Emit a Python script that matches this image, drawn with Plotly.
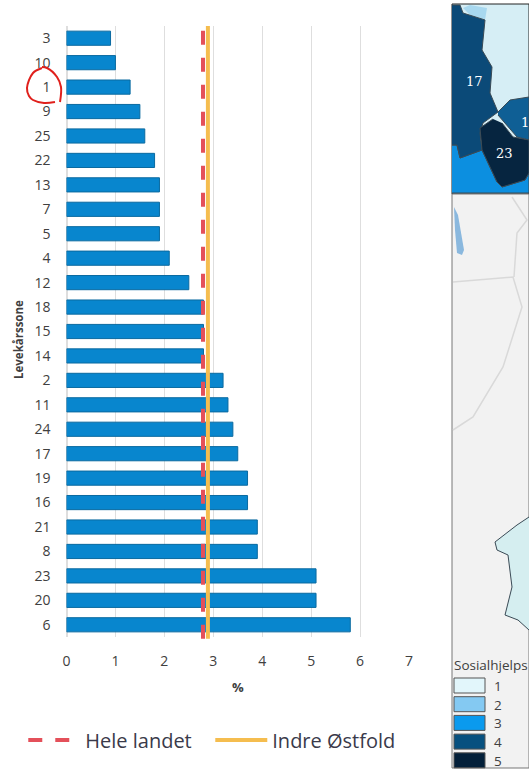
import plotly.graph_objects as go

zones = ["3", "10", "1", "9", "25", "22", "13", "7", "5", "4", "12", "18", "15",
         "14", "2", "11", "24", "17", "19", "16", "21", "8", "23", "20", "6"]
share = [0.9, 1.0, 1.3, 1.5, 1.6, 1.8, 1.9, 1.9, 1.9, 2.1, 2.5, 2.8, 2.8,
         2.8, 3.2, 3.3, 3.4, 3.5, 3.7, 3.7, 3.9, 3.9, 5.1, 5.1, 5.8]
hele_landet = 2.79
indre_ostfold = 2.89
TEXT = "#404040"
FONT = "Open Sans"

# map pieces in page pixels
region_17_x = [452, 460, 463, 485, 482, 492, 490, 498, 483, 480, 482, 460, 457, 452]
region_17_y = [5, 5, 13, 20, 50, 67, 93, 112, 123, 133, 150, 158, 145, 145]
region_2_x = [463, 470, 485, 487, 470]
region_2_y = [8, 15, 20, 8, 5]
region_14_x = [498, 510, 529, 529, 517, 498]
region_14_y = [112, 100, 97, 140, 137, 115]
region_23_x = [493, 480, 482, 497, 502, 525, 529, 529, 513, 502]
region_23_y = [119, 128, 150, 182, 187, 180, 173, 140, 137, 123]
region_3_x = [452, 457, 460, 482, 497, 502, 525, 529, 529, 452]
region_3_y = [145, 145, 158, 150, 182, 187, 180, 173, 193, 193]
east_x = [529, 517, 495, 497, 508, 512, 505, 518, 529]
east_y = [517, 525, 542, 550, 555, 587, 615, 620, 630]
lake_x = [454, 458, 464, 462, 457, 455]
lake_y = [207, 215, 250, 255, 253, 230]
road_a_x = [453, 513, 522, 503, 473, 453]
road_a_y = [282, 277, 307, 367, 417, 430]
road_b_x = [512, 527, 517, 514]
road_b_y = [197, 220, 233, 277]
circle_x = [42, 33, 27, 29, 33, 44, 55, None, 60, 61, 57, 47, 42]
circle_y = [68, 73, 88, 96, 100, 103, 102, None, 102, 87, 77, 68, 67]
swatch_colors = ["#e2f6fb", "#84c9f2", "#0a9aee", "#07507f", "#03203a"]
swatch_labels = ["1", "2", "3", "4", "5"]

fig = go.Figure()
fig.add_trace(go.Bar(
    x=share, y=zones, orientation="h", showlegend=False,
    marker=dict(color="#0886ce", line=dict(color="#0a6aa0", width=1)),
))

fig.add_shape(type="line", xref="x", yref="y domain", x0=hele_landet, x1=hele_landet, y0=-0.003, y1=1,
              line=dict(color="#e4505a", width=4, dash="14px,13px"), showlegend=True, name="Hele landet")
fig.add_shape(type="line", xref="x", yref="y domain", x0=indre_ostfold, x1=indre_ostfold, y0=-0.003, y1=1,
              line=dict(color="#f5bd4f", width=4), showlegend=True, name="Indre Østfold")

# whole page overlay for the map panel and the hand drawn circle
pieces = [
    (region_3_x, region_3_y, "#0c8fe0", 1),
    (region_2_x, region_2_y, "#a8d8ef", 0),
    (region_17_x, region_17_y, "#0b4a78", 1),
    (region_14_x, region_14_y, "#0f5f95", 1),
    (region_23_x, region_23_y, "#062540", 1),
    (east_x, east_y, "#d5eef0", 1),
]
fig.add_shape(type="rect", xref="x2", yref="y2", x0=452, x1=529, y0=4, y1=194,
              fillcolor="#d6eef5", line=dict(color="#222222", width=1), layer="below")
fig.add_shape(type="rect", xref="x2", yref="y2", x0=452, x1=529, y0=194, y1=768,
              fillcolor="#f2f2f2", line=dict(color="#777777", width=1), layer="below")
for px, py in [(road_a_x, road_a_y), (road_b_x, road_b_y)]:
    fig.add_trace(go.Scatter(x=px, y=py, xaxis="x2", yaxis="y2", mode="lines",
                             line=dict(color="#d9d9d9", width=1.5),
                             showlegend=False, hoverinfo="skip"))
fig.add_trace(go.Scatter(x=lake_x, y=lake_y, xaxis="x2", yaxis="y2", mode="lines", fill="toself",
                         fillcolor="#8ab8de", line=dict(width=0), showlegend=False, hoverinfo="skip"))
for px, py, color, edge in pieces:
    fig.add_trace(go.Scatter(x=px, y=py, xaxis="x2", yaxis="y2", mode="lines", fill="toself",
                             fillcolor=color, line=dict(color="#3a4a55", width=edge),
                             showlegend=False, hoverinfo="skip"))
fig.add_trace(go.Scatter(x=circle_x, y=circle_y, xaxis="x2", yaxis="y2", mode="lines",
                         line=dict(color="#e0201c", width=2, shape="spline"),
                         showlegend=False, hoverinfo="skip"))

for i, (color, label) in enumerate(zip(swatch_colors, swatch_labels)):
    top = 678 + i * 18.7
    fig.add_shape(type="rect", xref="x2", yref="y2", x0=454, x1=485, y0=top, y1=top + 15,
                  fillcolor=color, line=dict(color="#555555", width=1))
    fig.add_annotation(xref="x2", yref="y2", x=492, y=top + 8, text=label, showarrow=False,
                       xanchor="left", font=dict(family=FONT, size=13.5, color=TEXT))

# the reference page cuts these two labels at its right edge
fig.add_annotation(xref="x2", yref="y2", x=452, y=665, text="Sosialhjelps", showarrow=False,
                   xanchor="left", font=dict(family=FONT, size=13.5, color=TEXT))
fig.add_annotation(xref="x2", yref="y2", x=474, y=81, text="17", showarrow=False,
                   font=dict(family="DejaVu Serif", size=13, color="#ffffff"))
fig.add_annotation(xref="x2", yref="y2", x=519, y=122, text="1", showarrow=False, xanchor="left",
                   font=dict(family="DejaVu Serif", size=13, color="#ffffff"))
fig.add_annotation(xref="x2", yref="y2", x=504, y=153, text="23", showarrow=False,
                   font=dict(family="DejaVu Serif", size=13, color="#ffffff"))
fig.add_annotation(xref="x2", yref="y2", x=18, y=340, text="<b>Levekårssone</b>", showarrow=False,
                   textangle=-90, font=dict(family=FONT, size=11.5, color=TEXT))

fig.update_layout(
    width=529, height=774, margin=dict(l=0, r=0, t=0, b=0, autoexpand=False),
    paper_bgcolor="white", plot_bgcolor="rgba(0,0,0,0)", bargap=0.42,
    font=dict(family=FONT, color=TEXT),
    xaxis=dict(domain=[66.5 / 529, 409 / 529], range=[0, 7], dtick=1, showgrid=True, gridcolor="#dedede",
               gridwidth=1, zeroline=True, zerolinecolor="#dedede", showline=False, ticks="",
               tickfont=dict(size=14), ticklabelstandoff=14,
               title=dict(text="<b>%</b>", font=dict(size=13), standoff=13), anchor="y"),
    yaxis=dict(domain=[1 - 637 / 774, 1 - 26 / 774], type="category", categoryorder="array",
               categoryarray=zones, autorange="reversed", showgrid=False, showline=False,
               tickfont=dict(size=14), ticks="", ticklabelstandoff=15, anchor="x"),
    xaxis2=dict(domain=[0, 1], range=[0, 529], visible=False, anchor="y2"),
    yaxis2=dict(domain=[0, 1], range=[774, 0], visible=False, anchor="x2"),
    legend=dict(orientation="h", x=0.044, y=0.044, xanchor="left", yanchor="middle", itemwidth=52,
                entrywidth=120, font=dict(family=FONT, size=20, color="#3a3a4a"), bgcolor="rgba(0,0,0,0)"),
)

fig.write_html("out.html", config=dict(displayModeBar=False), post_script="document.body.style.margin='0';")
